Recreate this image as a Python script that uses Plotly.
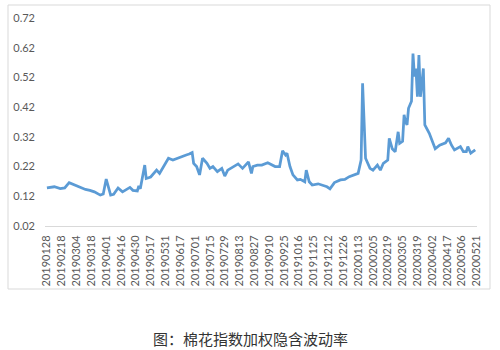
import plotly.graph_objects as go

day_index = [0, 2, 5, 9, 12, 15, 19, 22, 26, 29, 32, 36, 38, 40, 43, 45, 48, 51, 54, 56,
             58, 61, 62, 63, 66, 67, 70, 72, 74, 76, 80, 82, 85, 90, 94, 96, 98, 99, 101, 103,
             105, 108, 110, 112, 115, 118, 120, 122, 126, 129, 132, 136, 138, 139, 142, 145, 149, 154, 157, 159,
             161, 162, 164, 166, 169, 171, 174, 175, 177, 179, 183, 186, 189, 191, 194, 198, 201, 204, 208, 210,
             212, 213, 215, 218, 220, 223, 225, 227, 230, 231, 233, 235, 237, 238, 240, 241, 242, 243, 244, 246,
             247, 248, 249, 250, 251, 252, 253, 254, 255, 258, 262, 265, 269, 271, 273, 275, 279, 281, 283, 284,
             286, 289]
ivol = [0.148, 0.150, 0.152, 0.146, 0.148, 0.166, 0.158, 0.150, 0.143, 0.140, 0.135, 0.124, 0.128, 0.178, 0.124, 0.127, 0.148, 0.135, 0.145, 0.150,
        0.140, 0.138, 0.155, 0.145, 0.225, 0.180, 0.185, 0.197, 0.208, 0.197, 0.231, 0.248, 0.242, 0.253, 0.259, 0.262, 0.267, 0.231, 0.220, 0.192,
        0.248, 0.231, 0.214, 0.220, 0.203, 0.214, 0.188, 0.208, 0.220, 0.229, 0.214, 0.236, 0.197, 0.220, 0.225, 0.225, 0.233, 0.220, 0.220, 0.273,
        0.259, 0.265, 0.220, 0.192, 0.175, 0.177, 0.169, 0.208, 0.169, 0.158, 0.162, 0.158, 0.152, 0.145, 0.166, 0.175, 0.177, 0.186, 0.192, 0.197,
        0.242, 0.500, 0.248, 0.214, 0.208, 0.225, 0.208, 0.231, 0.242, 0.315, 0.280, 0.270, 0.337, 0.298, 0.305, 0.394, 0.370, 0.360, 0.416, 0.440,
        0.600, 0.523, 0.550, 0.455, 0.595, 0.455, 0.500, 0.550, 0.360, 0.332, 0.280, 0.292, 0.300, 0.315, 0.292, 0.276, 0.287, 0.270, 0.270, 0.287,
        0.265, 0.276]

tick_labels = ["20190128", "20190218", "20190304", "20190318", "20190401", "20190416", "20190430",
               "20190517", "20190531", "20190617", "20190701", "20190715", "20190729", "20190813",
               "20190827", "20190910", "20190925", "20191016", "20191125", "20191212", "20191226",
               "20200113", "20200205", "20200219", "20200305", "20200319", "20200402", "20200417",
               "20200506", "20200521"]
tick_pos = [10 * k for k in range(len(tick_labels))]

y_ticks = [0.02, 0.12, 0.22, 0.32, 0.42, 0.52, 0.62, 0.72]
caption = "图：棉花指数加权隐含波动率"

fig = go.Figure()
fig.add_trace(go.Scatter(x=day_index, y=ivol, mode="lines",
                         line=dict(color="#5B9BD5", width=2.75), hoverinfo="skip"))

fig.update_layout(
    width=500, height=350,
    margin=dict(l=45, r=23, t=18, b=124),
    paper_bgcolor="white", plot_bgcolor="white",
    showlegend=False,
    font=dict(family="Lato, Carlito, sans-serif", size=11, color="#595959"),
    xaxis=dict(range=[-1.3, 290.2], tickmode="array", tickvals=tick_pos, ticktext=tick_labels,
               tickangle=-90, showgrid=False, zeroline=False, showline=True,
               linecolor="#D9D9D9", linewidth=1, ticks="", ticklabelstandoff=4,
               tickfont=dict(size=11, color="#595959")),
    yaxis=dict(range=[0.02, 0.72], tickmode="array", tickvals=y_ticks,
               tickformat=".2f", showgrid=False, zeroline=False, showline=False,
               ticks="", ticklabelstandoff=9, tickfont=dict(size=11, color="#595959")),
    shapes=[dict(type="rect", xref="paper", yref="paper",
                 x0=(8 - 45) / 432, x1=(490 - 45) / 432,
                 y0=(226 - 289) / 208, y1=(226 - 5) / 208,
                 line=dict(color="#D9D9D9", width=1), fillcolor="rgba(0,0,0,0)", layer="below")],
    annotations=[dict(text=caption, xref="paper", yref="paper",
                      x=(250 - 45) / 432, y=(226 - 338) / 208, xanchor="center", yanchor="middle",
                      showarrow=False,
                      font=dict(family="Noto Sans CJK SC", size=15, color="#333333"))],
)

fig.write_html("out.html")
